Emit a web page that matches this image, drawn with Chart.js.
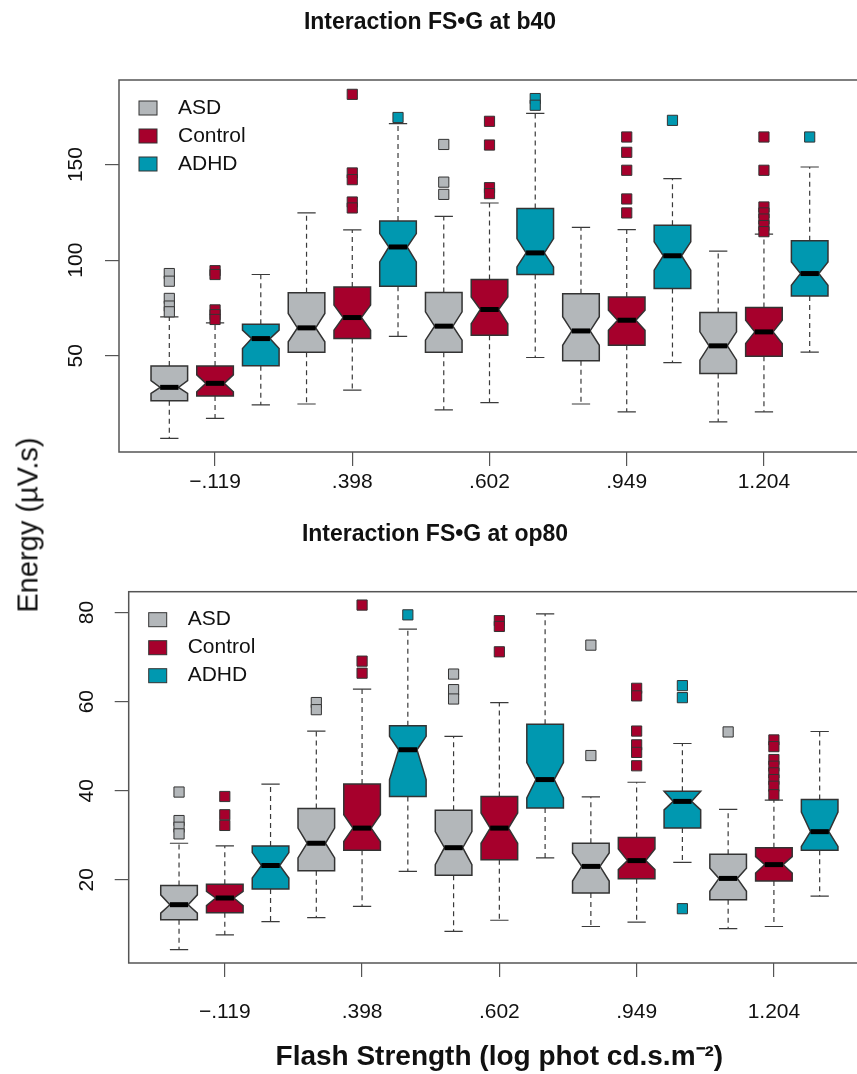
<!DOCTYPE html>
<html>
<head>
<meta charset="utf-8">
<script src="https://cdn.jsdelivr.net/npm/chart.js@4.4.1/dist/chart.umd.min.js"></script>
<style>
  body { margin: 0; width: 857px; height: 1074px; overflow: hidden; background: #fff; position: relative; }
  canvas { position: absolute; left: 0; }
  #c1 { top: 0; }
  #c2 { top: 505px; }
  #ytitle {
    position: absolute; left: 28px; top: 525px;
    transform: translate(-50%, -50%) rotate(-90deg);
    font: 29px "Liberation Sans", Arial, sans-serif;
    white-space: nowrap; color: #111;
  }
</style>
</head>
<body>
<canvas id="c1" width="870" height="505"></canvas>
<canvas id="c2" width="880" height="569"></canvas>
<div id="ytitle">Energy (µV.s)</div>
<script>
const strengths = ['−.119', '.398', '.602', '.949', '1.204'];
const groups = ['ASD', 'Control', 'ADHD'];
const groupColors = ['#b3b7ba', '#a6002c', '#0098b0'];
const tickPositions = [2, 5, 8, 11, 14];

// boxes go strength by strength: ASD, Control, ADHD
const b40Low      = [6.8, 17.3, 24.3, 24.8, 32.0, 60.2, 21.7, 25.5, 49.1, 24.8, 20.7, 46.4, 15.5, 20.7, 51.9];
const b40Q1       = [26.5, 29.0, 44.8, 51.8, 59.0, 86.3, 51.8, 60.7, 92.5, 47.4, 55.5, 85.2, 40.7, 49.8, 81.2];
const b40NotchLo  = [30.3, 31.2, 53.8, 57.3, 63.4, 99.1, 58.2, 66.8, 96.5, 55.5, 63.4, 94.8, 47.7, 56.4, 86.9];
const b40Median   = [33.5, 35.6, 59.0, 64.6, 70.0, 106.9, 65.5, 74.2, 103.8, 63.0, 68.6, 102.3, 55.2, 62.5, 93.0];
const b40NotchHi  = [37.0, 40.0, 63.4, 72.1, 76.5, 113.9, 73.0, 80.8, 111.3, 70.4, 73.8, 109.6, 62.5, 68.6, 99.1];
const b40Q3       = [44.6, 44.6, 66.5, 82.9, 86.0, 120.5, 83.1, 89.9, 127.0, 82.4, 80.8, 118.3, 72.6, 75.2, 110.1];
const b40High     = [70.4, 67.2, 92.5, 124.7, 115.8, 171.4, 122.9, 129.9, 176.7, 117.1, 116.0, 142.6, 104.7, 113.6, 148.7];
const b40Outliers = [
  [93, 89, 80, 76, 73], [94.5, 92.5, 74, 71.5, 69], [],
  [], [186.7, 145.6, 142.1, 130.4, 127.3], [174.6],
  [160.5, 140.8, 134.4], [172.6, 160.2, 137.9, 134.8], [184.5, 181.0],
  [], [164.4, 156.4, 147.0, 132.0, 124.7], [173.1],
  [], [164.4, 147.0, 127.8, 124.7, 121.5, 118.1, 114.9], [164.4]
];
const b40Ticks = [50, 100, 150];

const op80Low      = [4.3, 7.6, 10.6, 11.5, 14.0, 21.9, 8.4, 10.9, 24.9, 9.5, 10.5, 23.9, 9.0, 9.5, 16.3];
const op80Q1       = [11.0, 12.6, 17.9, 22.0, 26.6, 38.7, 21.0, 24.5, 36.1, 17.0, 20.2, 31.6, 15.5, 19.7, 26.6];
const op80NotchLo  = [12.5, 14.2, 20.4, 24.9, 28.6, 42.5, 23.4, 28.2, 38.4, 19.7, 22.3, 35.7, 17.4, 21.5, 27.5];
const op80Median   = [14.4, 15.9, 23.2, 28.2, 31.6, 49.2, 27.2, 31.6, 42.5, 23.0, 24.3, 37.6, 20.3, 23.4, 30.8];
const op80NotchHi  = [16.6, 17.4, 26.1, 31.6, 34.6, 52.2, 30.8, 35.0, 46.3, 26.0, 26.9, 39.9, 22.6, 25.2, 35.2];
const op80Q3       = [18.7, 19.0, 27.6, 36.0, 41.5, 54.6, 35.6, 38.7, 54.9, 28.2, 29.5, 39.9, 25.7, 27.2, 38.0];
const op80High     = [28.2, 27.6, 41.5, 53.4, 62.8, 76.3, 52.2, 59.8, 79.7, 38.6, 41.9, 50.6, 35.8, 37.9, 53.3];
const op80Outliers = [
  [39.7, 33.3, 31.8, 30.3], [38.7, 34.6, 32.2], [],
  [59.8, 58.2], [81.7, 69.1, 66.4], [79.5],
  [66.2, 62.7, 60.6], [78.2, 76.9, 71.2], [],
  [72.7, 47.9], [63.0, 61.3, 53.4, 50.3, 48.6, 45.6], [63.6, 60.9, 13.5],
  [53.2], [51.4, 49.9, 47.0, 45.5, 44.0, 42.5, 41.0, 39.1], []
];
const op80Ticks = [20, 40, 60, 80];

const FONT = '"Liberation Sans", Arial, sans-serif';
const BOX_HALF = 0.4;

function outlierSets(out) {
  return groups.map((g, gi) => ({
    label: g,
    data: out.flatMap((vals, i) => i % 3 === gi ? vals.map(v => ({ x: i + 1, y: v })) : []),
    backgroundColor: groupColors[gi],
    borderColor: '#333',
    borderWidth: 1,
    pointStyle: 'rect',
    pointRadius: 7.2,
    pointHoverRadius: 7.2
  }));
}

// notched boxes, whiskers, frame and the legend inside the plot
function boxPlugin(p) {
  return {
    id: 'notchedBoxes',
    beforeDatasetsDraw(chart) {
      const { ctx, scales: { x, y } } = chart;
      const w = x.getPixelForValue(1 + BOX_HALF) - x.getPixelForValue(1);
      const py = v => y.getPixelForValue(v);
      p.median.forEach((m, i) => {
        const cx = x.getPixelForValue(i + 1);
        ctx.save();
        ctx.strokeStyle = '#3a3a3a';
        ctx.lineWidth = 1.2;
        ctx.setLineDash([5, 4]);
        ctx.beginPath();
        ctx.moveTo(cx, py(p.q3[i])); ctx.lineTo(cx, py(p.high[i]));
        ctx.moveTo(cx, py(p.q1[i])); ctx.lineTo(cx, py(p.low[i]));
        ctx.stroke();
        ctx.setLineDash([]);
        ctx.beginPath();
        ctx.moveTo(cx - w / 2, py(p.high[i])); ctx.lineTo(cx + w / 2, py(p.high[i]));
        ctx.moveTo(cx - w / 2, py(p.low[i])); ctx.lineTo(cx + w / 2, py(p.low[i]));
        ctx.stroke();

        ctx.beginPath();
        ctx.moveTo(cx - w, py(p.q1[i]));
        ctx.lineTo(cx - w, py(p.notchLo[i]));
        ctx.lineTo(cx - w / 2, py(m));
        ctx.lineTo(cx - w, py(p.notchHi[i]));
        ctx.lineTo(cx - w, py(p.q3[i]));
        ctx.lineTo(cx + w, py(p.q3[i]));
        ctx.lineTo(cx + w, py(p.notchHi[i]));
        ctx.lineTo(cx + w / 2, py(m));
        ctx.lineTo(cx + w, py(p.notchLo[i]));
        ctx.lineTo(cx + w, py(p.q1[i]));
        ctx.closePath();
        ctx.fillStyle = groupColors[i % 3];
        ctx.fill();
        ctx.lineWidth = 1.5;
        ctx.strokeStyle = '#333';
        ctx.stroke();

        ctx.lineWidth = 5;
        ctx.strokeStyle = '#000';
        ctx.beginPath();
        ctx.moveTo(cx - w / 2, py(m)); ctx.lineTo(cx + w / 2, py(m));
        ctx.stroke();
        ctx.restore();
      });
    },
    afterDraw(chart) {
      const { ctx, chartArea: a } = chart;
      ctx.save();
      ctx.strokeStyle = '#555';
      ctx.lineWidth = 1.5;
      ctx.strokeRect(a.left, a.top, a.right - a.left, a.bottom - a.top);
      ctx.font = '21px ' + FONT;
      ctx.textBaseline = 'middle';
      groups.forEach((g, gi) => {
        const cy = a.top + 28 + gi * 28;
        ctx.fillStyle = groupColors[gi];
        ctx.fillRect(a.left + 20, cy - 7, 18, 14);
        ctx.strokeStyle = '#333';
        ctx.lineWidth = 1;
        ctx.strokeRect(a.left + 20, cy - 7, 18, 14);
        ctx.fillStyle = '#111';
        ctx.fillText(g, a.left + 59, cy);
      });
      ctx.restore();
    }
  };
}

function makeChart(id, p, opt) {
  return new Chart(document.getElementById(id), {
    type: 'scatter',
    data: { datasets: outlierSets(p.out) },
    options: {
      responsive: false,
      animation: false,
      events: [],
      layout: { padding: { left: 0, right: 10, top: 0, bottom: 0 } },
      plugins: {
        legend: { display: false },
        tooltip: { enabled: false },
        title: {
          display: true,
          text: opt.title,
          color: '#111',
          font: { family: FONT, size: 23, weight: 'bold' },
          padding: { top: opt.titleTop, bottom: opt.titleBottom }
        }
      },
      scales: {
        x: {
          type: 'linear',
          min: -0.1,
          max: 16.1,
          afterBuildTicks: s => { s.ticks = tickPositions.map(v => ({ value: v })); },
          afterFit: s => { s.height = opt.xHeight; },
          grid: { drawOnChartArea: false, tickLength: 14, tickColor: '#555', lineWidth: 1.2 },
          border: { display: false },
          ticks: {
            padding: opt.xPad,
            color: '#111',
            font: { family: FONT, size: 21 },
            maxRotation: 0,
            autoSkip: false,
            callback: (v, i) => strengths[i]
          },
          title: opt.xTitle ? {
            display: true,
            text: opt.xTitle,
            color: '#111',
            font: { family: FONT, size: 28, weight: 'bold' },
            padding: { top: 0, bottom: 0 }
          } : { display: false }
        },
        y: {
          min: opt.yMin,
          max: opt.yMax,
          afterBuildTicks: s => { s.ticks = p.ticks.map(v => ({ value: v })); },
          afterFit: s => { s.width = opt.yWidth; },
          grid: { drawOnChartArea: false, tickLength: 14, tickColor: '#555', lineWidth: 1.2 },
          border: { display: false },
          ticks: {
            minRotation: 90,
            crossAlign: 'center',
            padding: opt.yPad,
            color: '#111',
            font: { family: FONT, size: 21 }
          }
        }
      }
    },
    plugins: [boxPlugin(p)]
  });
}

makeChart('c1', {
  low: b40Low, q1: b40Q1, notchLo: b40NotchLo, median: b40Median,
  notchHi: b40NotchHi, q3: b40Q3, high: b40High, out: b40Outliers, ticks: b40Ticks
}, {
  title: 'Interaction FS•G at b40', titleTop: 9.2, titleBottom: 43.2,
  xHeight: 53, xPad: 3.5, yWidth: 119, yPad: 10.8, yMin: -0.3, yMax: 194.2
});

makeChart('c2', {
  low: op80Low, q1: op80Q1, notchLo: op80NotchLo, median: op80Median,
  notchHi: op80NotchHi, q3: op80Q3, high: op80High, out: op80Outliers, ticks: op80Ticks
}, {
  title: 'Interaction FS•G at op80', titleTop: 16.2, titleBottom: 42.9,
  xHeight: 111, xPad: 22.8, yWidth: 128.7, yPad: 16, yMin: 1.3, yMax: 84.7,
  xTitle: 'Flash Strength (log phot cd.s.m⁻²)'
});
</script>
</body>
</html>
